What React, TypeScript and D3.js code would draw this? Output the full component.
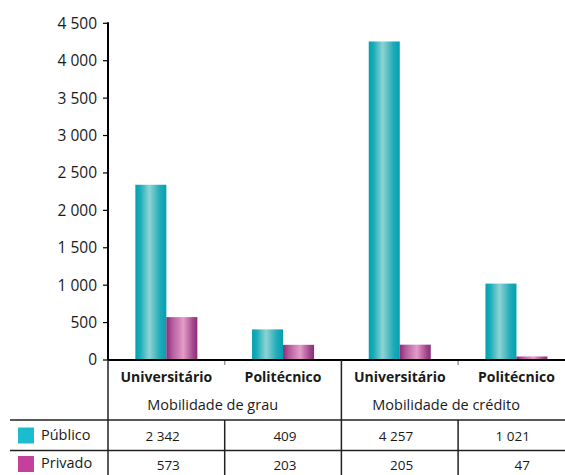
import * as d3 from 'd3';

const categories = ['Universitário', 'Politécnico', 'Universitário', 'Politécnico'];
const groups = ['Mobilidade de grau', 'Mobilidade de crédito'];
const seriesNames = ['Público', 'Privado'];
const publico = [2342, 409, 4257, 1021];
const privado = [573, 203, 205, 47];
const yTicks = [0, 500, 1000, 1500, 2000, 2500, 3000, 3500, 4000, 4500];

const W = 565;
const H = 475;
const left = 108;
const bandW = 116.7;
const baseY = 360;
const topY = 23.3;

const fmt = d3.formatLocale({ decimal: ',', thousands: '\u00a0', grouping: [3], currency: ['', '€'] }).format(',d');

export default function App() {
  const keys = categories.map((_, i) => String(i));
  const x = d3.scaleBand<string>().domain(keys).range([left, left + bandW * 4]);
  const y = d3.scaleLinear().domain([0, 4500]).range([baseY, topY]);
  const sub = d3.scaleBand<string>().domain(seriesNames).range([0, 62]);
  const series = [publico, privado];
  const fills = ['url(#gPub)', 'url(#gPriv)'];
  const legendColors = ['#1bbccf', '#c4409a'];
  const font = '"Open Sans", Lato, sans-serif';
  const txt = '#1a1a1a';
  const line = '#222';

  return (
    <svg width={W} height={H} style={{ position: 'absolute', left: 0, top: 0, background: '#fff' }} fontFamily={font}>
      <defs>
        <linearGradient id="gPub" x1="0" x2="1" y1="0" y2="0">
          <stop offset="0%" stopColor="#00a1b0" />
          <stop offset="15%" stopColor="#18acb8" />
          <stop offset="45%" stopColor="#8fd3d3" />
          <stop offset="80%" stopColor="#20aab8" />
          <stop offset="100%" stopColor="#00a1b0" />
        </linearGradient>
        <linearGradient id="gPriv" x1="0" x2="1" y1="0" y2="0">
          <stop offset="0%" stopColor="#8b2c78" />
          <stop offset="20%" stopColor="#b45d9e" />
          <stop offset="55%" stopColor="#e59cc7" />
          <stop offset="85%" stopColor="#a44a8e" />
          <stop offset="100%" stopColor="#8b2c78" />
        </linearGradient>
      </defs>

      {/* bars */}
      {series.map((vals, s) =>
        vals.map((v, i) => {
          const x0 = (x(keys[i]) || 0) + (x.bandwidth() - 62) / 2 + (sub(seriesNames[s]) || 0);
          return (
            <rect key={`${s}-${i}`} x={x0} y={y(v)} width={sub.bandwidth()} height={baseY - y(v)} fill={fills[s]} />
          );
        })
      )}

      {/* y axis */}
      <line x1={left} x2={left} y1={topY - 1} y2={baseY} stroke="#000" strokeWidth={2} />
      {yTicks.map(t => (
        <g key={t}>
          <line x1={left - 5} x2={left} y1={y(t)} y2={y(t)} stroke="#000" strokeWidth={1.2} />
          <text x={left - 11} y={y(t)} dy="0.35em" textAnchor="end" fontSize={15.5} fill={txt}>
            {fmt(t)}
          </text>
        </g>
      ))}

      {/* baseline */}
      <line x1={left} x2={W} y1={baseY} y2={baseY} stroke="#000" strokeWidth={2.2} />
      {[1, 3].map(i => (
        <line key={i} x1={x(keys[i])} x2={x(keys[i])} y1={baseY + 1} y2={baseY + 5} stroke="#999" strokeWidth={1.5} />
      ))}

      {/* category labels */}
      {categories.map((c, i) => (
        <text key={i} x={(x(keys[i]) || 0) + x.bandwidth() / 2} y={377} dy="0.35em" textAnchor="middle" fontSize={14} fontWeight="bold" fill={txt}>
          {c}
        </text>
      ))}
      {groups.map((g, i) => (
        <text key={g} x={(x(keys[i * 2]) || 0) + x.bandwidth() - 12} y={405} dy="0.35em" textAnchor="middle" fontSize={14.5} fill={txt}>
          {g}
        </text>
      ))}

      {/* table lines */}
      <line x1={left} x2={left} y1={baseY} y2={H} stroke={line} strokeWidth={1.5} />
      <line x1={x(keys[2])} x2={x(keys[2])} y1={baseY} y2={H} stroke={line} strokeWidth={1.5} />
      <line x1={x(keys[1])} x2={x(keys[1])} y1={420} y2={H} stroke={line} strokeWidth={1.5} />
      <line x1={x(keys[3])} x2={x(keys[3])} y1={420} y2={H} stroke={line} strokeWidth={1.5} />
      <line x1={10} x2={W} y1={420} y2={420} stroke={line} strokeWidth={1.5} />
      <line x1={10} x2={W} y1={450.5} y2={450.5} stroke={line} strokeWidth={1.5} />

      {/* table rows */}
      {series.map((vals, s) => {
        const ry = s === 0 ? 435.5 : 464;
        return (
          <g key={s}>
            <rect x={18} y={ry - 8} width={16} height={16} fill={legendColors[s]} />
            <text x={41} y={ry - 1} dy="0.35em" fontSize={14.5} fill={txt}>
              {seriesNames[s]}
            </text>
            {vals.map((v, i) => (
              <text key={i} x={(x(keys[i]) || 0) + x.bandwidth() / 2 + 13.5} y={ry + 1} dy="0.35em" textAnchor="end" fontSize={13.5} fill={txt}>
                {fmt(v)}
              </text>
            ))}
          </g>
        );
      })}
    </svg>
  );
}
